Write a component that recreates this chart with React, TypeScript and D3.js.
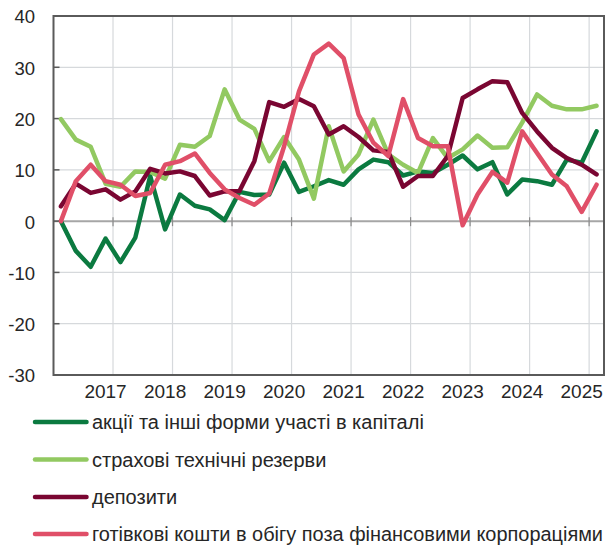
import * as d3 from "d3";
import { useEffect, useRef } from "react";

// quarterly, 2016 Q2 .. 2025 Q2
const quarters: string[] = [];
for (let y = 2016; y <= 2025; y++) {
  for (let q = 1; q <= 4; q++) {
    if ((y === 2016 && q < 2) || (y === 2025 && q > 2)) continue;
    quarters.push(`${y}Q${q}`);
  }
}

const equity = [0, -5.8, -8.9, -3.4, -8.0, -3.2, 8.8, -1.6, 5.2, 3.0, 2.3, 0.2, 5.7, 5.1, 5.2, 11.4, 5.7, 6.8, 8.0, 7.1, 10.1, 12.0, 11.5, 8.9, 9.7, 9.4, 11.0, 12.8, 10.1, 11.5, 5.2, 8.1, 7.8, 7.1, 12.0, 11.4, 17.5];
const insurance = [19.9, 15.9, 14.5, 7.3, 6.7, 9.7, 9.6, 8.3, 14.9, 14.5, 16.6, 25.7, 19.8, 18.0, 11.7, 16.4, 12.0, 4.4, 18.5, 9.7, 13.0, 19.8, 13.0, 11.0, 9.4, 16.2, 12.3, 14.0, 16.7, 14.3, 14.4, 19.2, 24.7, 22.5, 21.8, 21.8, 22.5];
const deposits = [2.9, 7.3, 5.5, 6.2, 4.2, 5.8, 10.2, 9.3, 9.7, 8.8, 5.0, 5.8, 5.9, 11.7, 23.2, 22.3, 23.8, 22.4, 16.9, 18.5, 16.4, 13.8, 13.5, 6.7, 8.8, 8.8, 12.7, 24.0, 25.7, 27.3, 27.1, 21.1, 17.5, 14.3, 12.3, 11.0, 9.1];
const cash = [0, 7.8, 11.0, 7.8, 7.1, 4.9, 5.5, 11.0, 11.7, 13.2, 9.4, 6.2, 4.5, 3.2, 5.4, 14.6, 25.3, 32.5, 34.6, 31.8, 20.8, 15.3, 12.7, 23.8, 16.2, 14.6, 14.6, -0.8, 5.2, 9.6, 7.5, 17.5, 13.3, 9.1, 6.8, 1.8, 7.1];

const yTicks = [-30, -20, -10, 0, 10, 20, 30, 40];
const yearLabels = ["2017", "2018", "2019", "2020", "2021", "2022", "2023", "2024", "2025"];

const series = [
  { name: "акції та інші форми участі в капіталі", values: equity, color: "#0B7A40" },
  { name: "страхові технічні резерви", values: insurance, color: "#92C961" },
  { name: "депозити", values: deposits, color: "#7A0632" },
  { name: "готівкові кошти в обігу поза фінансовими корпораціями", values: cash, color: "#E04F68" },
];

const W = 606;
const H = 546;
const FONT = "'Liberation Sans', Arial, sans-serif";

export default function App() {
  const ref = useRef<SVGSVGElement>(null);

  useEffect(() => {
    const svg = d3.select(ref.current);
    svg.selectAll("*").remove();

    const plot = { left: 53.5, right: 604, top: 16, bottom: 375 };

    const x = d3.scaleBand<string>().domain(quarters).range([plot.left, plot.right]).padding(0);
    const cx = (q: string) => (x(q) ?? 0) + x.bandwidth() / 2;
    const y = d3.scaleLinear().domain([-30, 40]).range([plot.bottom, plot.top]);

    const grid = svg.append("g");
    // horizontal grid
    grid
      .selectAll("line.h")
      .data(yTicks.filter((t) => t !== 0))
      .join("line")
      .attr("x1", plot.left)
      .attr("x2", plot.right)
      .attr("y1", (d) => y(d))
      .attr("y2", (d) => y(d))
      .attr("stroke", "#d6d9dc")
      .attr("stroke-width", 1.2);

    // vertical grid: after each Q1
    const q1 = quarters.filter((q) => q.endsWith("Q1"));
    const gridX = (q: string) => (x(q) ?? 0) + x.bandwidth();
    grid
      .selectAll("line.v")
      .data(q1)
      .join("line")
      .attr("x1", gridX)
      .attr("x2", gridX)
      .attr("y1", plot.top)
      .attr("y2", plot.bottom)
      .attr("stroke", "#d6d9dc")
      .attr("stroke-width", 1.2);

    // zero line + its ticks
    svg
      .append("line")
      .attr("x1", plot.left)
      .attr("x2", plot.right)
      .attr("y1", y(0))
      .attr("y2", y(0))
      .attr("stroke", "#a6a6a6")
      .attr("stroke-width", 2);
    svg
      .append("g")
      .selectAll("line")
      .data(q1)
      .join("line")
      .attr("x1", gridX)
      .attr("x2", gridX)
      .attr("y1", y(0) - 4)
      .attr("y2", y(0) + 5)
      .attr("stroke", "#8c8c8c")
      .attr("stroke-width", 1.2);

    // y ticks (inside)
    svg
      .append("g")
      .selectAll("line")
      .data(yTicks)
      .join("line")
      .attr("x1", plot.left)
      .attr("x2", plot.left + 6)
      .attr("y1", (d) => y(d))
      .attr("y2", (d) => y(d))
      .attr("stroke", "#595959")
      .attr("stroke-width", 1.5);

    // lines
    const line = d3
      .line<number>()
      .x((_, i) => cx(quarters[i]))
      .y((d) => y(d));
    series.forEach((s) => {
      svg
        .append("path")
        .attr("d", line(s.values))
        .attr("fill", "none")
        .attr("stroke", s.color)
        .attr("stroke-width", 4.5)
        .attr("stroke-linejoin", "round")
        .attr("stroke-linecap", "round");
    });

    // frame
    svg
      .append("rect")
      .attr("x", plot.left)
      .attr("y", plot.top)
      .attr("width", plot.right - plot.left)
      .attr("height", plot.bottom - plot.top)
      .attr("fill", "none")
      .attr("stroke", "#5a5a5a")
      .attr("stroke-width", 2);

    // y labels
    svg
      .append("g")
      .selectAll("text")
      .data(yTicks)
      .join("text")
      .attr("x", 35)
      .attr("y", (d) => y(d) + 1)
      .attr("dy", "0.35em")
      .attr("text-anchor", "end")
      .attr("font-family", FONT)
      .attr("font-size", 18.5)
      .attr("fill", "#262626")
      .text((d) => d);

    // x labels at Q1
    svg
      .append("g")
      .selectAll("text")
      .data(q1.filter((q) => yearLabels.includes(q.slice(0, 4))))
      .join("text")
      .attr("x", (d) => cx(d))
      .attr("y", 398)
      .attr("text-anchor", "middle")
      .attr("font-family", FONT)
      .attr("font-size", 19)
      .attr("fill", "#262626")
      .text((d) => d.slice(0, 4));

    // legend
    const rowsY = [422, 459.5, 497, 534];
    const lg = svg.append("g");
    series.forEach((s, i) => {
      lg.append("line")
        .attr("x1", 35)
        .attr("x2", 86.5)
        .attr("y1", rowsY[i])
        .attr("y2", rowsY[i])
        .attr("stroke", s.color)
        .attr("stroke-width", 4.5)
        .attr("stroke-linecap", "round");
      const t = lg
        .append("text")
        .attr("x", 92)
        .attr("y", rowsY[i])
        .attr("dy", "0.35em")
        .attr("font-family", FONT)
        .attr("font-size", 20)
        .attr("fill", "#262626")
        .text(s.name);
      // last entry is squeezed to fit the width
      if (i === series.length - 1) t.attr("textLength", 511).attr("lengthAdjust", "spacingAndGlyphs");
    });
  }, []);

  return (
    <div style={{ position: "absolute", left: 0, top: 0 }}>
      <svg ref={ref} width={W} height={H} style={{ display: "block", background: "#fff" }} />
    </div>
  );
}
